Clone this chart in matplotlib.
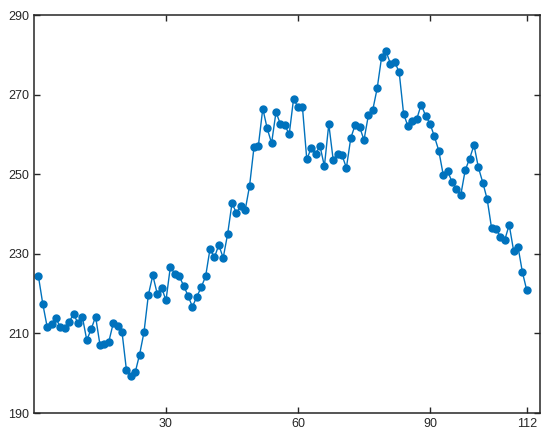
import numpy as np
import matplotlib
matplotlib.use('Agg')
import matplotlib.pyplot as plt

# values, one per index 1..112
vals = [224.4, 217.4, 211.6, 212.4, 213.8, 211.5, 211.3, 212.9, 214.9, 212.5,
        214.1, 208.3, 211.1, 214.2, 207.1, 207.3, 207.9, 212.5, 211.9, 210.4,
        200.9, 199.3, 200.2, 204.7, 210.3, 219.7, 224.6, 220.0, 221.5, 218.3,
        226.8, 224.9, 224.4, 222.0, 219.5, 216.7, 219.2, 221.6, 224.3, 231.2,
        229.1, 232.2, 229.0, 234.9, 242.7, 240.3, 241.9, 241.0, 247.1, 256.8,
        257.2, 266.5, 261.5, 257.8, 265.6, 262.6, 262.4, 260.0, 269.0, 266.8,
        267.0, 253.7, 256.6, 255.1, 257.1, 252.0, 262.6, 253.6, 255.2, 254.8,
        251.6, 259.1, 262.4, 261.9, 258.6, 264.8, 266.2, 271.6, 279.4, 280.9,
        277.8, 278.2, 275.6, 265.2, 262.0, 263.3, 263.9, 267.5, 264.7, 262.7,
        259.5, 255.9, 249.9, 250.8, 248.1, 246.4, 244.8, 251.0, 253.9, 257.3,
        251.7, 247.9, 243.7, 236.4, 236.3, 234.3, 233.5, 237.3, 230.8, 231.8,
        225.4, 220.8]
idx = np.arange(1, len(vals) + 1)

xticks = [30, 60, 90, 112]
yticks = [190, 210, 230, 250, 270, 290]

plt.rcParams['font.family'] = ['Liberation Sans', 'DejaVu Sans']

fig = plt.figure(figsize=(5.5, 4.42), dpi=100)
ax = fig.add_axes([0.0618, 0.0656, 0.92, 0.9004])

blue = '#0072BD'
ax.plot(idx, vals, '-o', color=blue, lw=1.0, ms=5, mfc=blue, mec=blue)

ax.set_xlim(0, 115)
ax.set_ylim(190, 290)
ax.set_xticks(xticks)
ax.set_yticks(yticks)

edge = '#262626'
for s in ax.spines.values():
    s.set_linewidth(1.1)
    s.set_color(edge)
ax.tick_params(direction='in', length=4, width=1.0, color=edge, labelsize=9,
               labelcolor=edge, top=True, right=True)

fig.savefig('out.png', dpi=100)
